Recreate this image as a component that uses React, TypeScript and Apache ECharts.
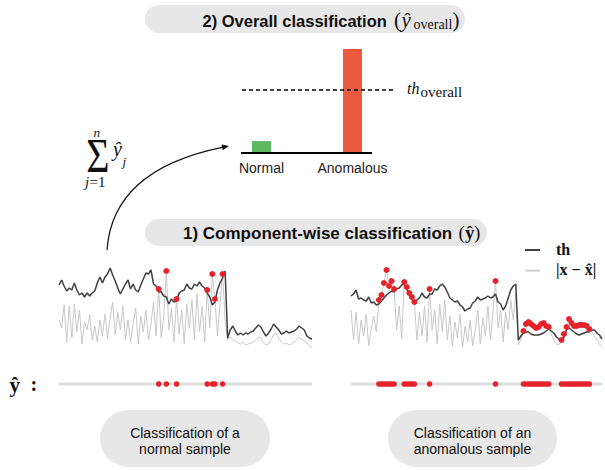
import React, { useEffect, useRef } from "react";
import * as echarts from "echarts";

// ---------- data ----------
const overallCategories = ["Normal", "Anomalous"];
const overallValues = [7, 61];
const overallThreshold = 37;
const overallColors = ["#5cb862", "#ee5a40"];

// normal sample: threshold (th) and reconstruction error |x - x^|
const normalTh = [
  65, 70, 64, 59, 62, 60, 67, 60, 55, 57,
  53, 57, 54, 57, 59, 67, 73, 67, 73, 76,
  82, 75, 69, 62, 56, 61, 66, 70, 61, 66,
  60, 58, 65, 71, 77, 76, 80, 66, 64, 58,
  58, 54, 53, 46, 51, 48, 49, 57, 59, 60,
  66, 62, 61, 66, 64, 68, 64, 62, 57, 53,
  45, 48, 60, 67, 72, 79, 12, 20, 24, 19,
  15, 17, 15, 17, 16, 18, 19, 22, 25, 23,
  18, 14, 17, 21, 26, 23, 20, 16, 17, 19,
  17, 18, 19, 21, 24, 22, 20, 14, 12, 11,
];
const normalErr = [
  30, 22, 45, 8, 44, 12, 46, 18, 40, 6,
  28, 20, 35, 10, 24, 8, 30, 14, 36, 12,
  32, 48, 15, 38, 20, 44, 10, 30, 8, 26,
  42, 6, 34, 18, 40, 10, 26, 48, 14, 61,
  12, 34, 79, 20, 42, 8, 51, 16, 40, 6,
  46, 22, 50, 10, 56, 18, 44, 8, 60, 22,
  76, 51, 14, 46, 76, 30, 10, 13, 11, 9,
  7, 6, 8, 5, 6, 7, 8, 10, 13, 12,
  7, 5, 6, 10, 15, 17, 12, 8, 6, 7,
  5, 6, 8, 10, 13, 11, 9, 7, 4, 2,
];

// anomalous sample
const anomTh = [
  54, 56, 60, 51, 52, 50, 49, 53, 47, 48,
  45, 46, 49, 52, 55, 57, 59, 58, 61, 62,
  65, 66, 61, 55, 51, 46, 50, 52, 57, 53,
  52, 56, 56, 61, 60, 64, 66, 63, 58, 52,
  50, 48, 49, 45, 43, 39, 41, 42, 47, 49,
  53, 50, 51, 52, 54, 52, 53, 56, 48, 46,
  40, 44, 52, 60, 64, 66, 10, 14, 17, 18,
  18, 16, 15, 15, 15, 16, 17, 19, 21, 19,
  17, 13, 11, 8, 13, 20, 22, 20, 18, 16,
  15, 16, 17, 18, 18, 20, 20, 17, 15, 11,
];
const anomErr = [
  40, 10, 38, 6, 30, 14, 36, 4, 22, 34,
  18, 50, 55, 67, 80, 64, 69, 61, 20, 44,
  12, 68, 63, 57, 53, 48, 10, 38, 14, 44,
  8, 61, 20, 40, 6, 46, 18, 50, 10, 34,
  4, 28, 12, 36, 2, 24, 8, 30, 4, 20,
  40, 6, 32, 14, 44, 10, 38, 69, 22, 40,
  8, 38, 20, 50, 30, 58, 5, 10, 19, 26,
  28, 26, 24, 22, 23, 26, 27, 24, 23, 16,
  10, 6, 5, 10, 16, 23, 31, 27, 24, 24,
  25, 25, 25, 24, 21, 18, 14, 10, 6, 3,
];

const legendNames = ["th", "|x \u2212 x\u0302|"];

// ---------- styles ----------
const SANS = '"Liberation Sans", Arial, sans-serif';
const SERIF = '"Liberation Serif", "Times New Roman", serif';
const TH_COLOR = "#404040";
const ERR_COLOR = "#c8c8c8";
const RED = "#e8222a";
const BOX = "#e7e7e7";

const pairs = (arr: number[]) => arr.map((v, i) => [i, v]);
const anomalyPoints = (th: number[], err: number[]) =>
  err.map((e, i) => (e > th[i] ? [i, e] : null)).filter(Boolean) as number[][];
const anomalyFlags = (th: number[], err: number[]) =>
  err.map((e, i) => (e > th[i] ? [i, 0] : null)).filter(Boolean) as number[][];

type TOpt = {
  size: number;
  family?: string;
  weight?: string;
  style?: string;
  align?: string;
  lh?: number;
  scaleY?: number;
};
const txt = (x: number, y: number, text: string, o: TOpt) => ({
  type: "text",
  x,
  y,
  silent: true,
  scaleY: o.scaleY ?? 1,
  style: {
    text,
    fill: "#111",
    textAlign: o.align ?? "left",
    textVerticalAlign: "middle",
    fontSize: o.size,
    fontFamily: o.family ?? SERIF,
    fontWeight: o.weight ?? "normal",
    fontStyle: o.style ?? "normal",
    lineHeight: o.lh,
  },
});
const box = (x: number, y: number, w: number, h: number) => ({
  type: "rect",
  silent: true,
  shape: { x, y, width: w, height: h, r: h / 2 },
  style: { fill: BOX },
});

export default function App() {
  const ref = useRef<HTMLDivElement>(null);

  useEffect(() => {
    if (!ref.current) return;
    const chart = echarts.init(ref.current, null, { renderer: "svg" });

    const lineSeries = (
      grid: number,
      data: number[],
      color: string,
      width: number
    ) => ({
      type: "line",
      xAxisIndex: grid,
      yAxisIndex: grid,
      data: pairs(data),
      symbol: "none",
      silent: true,
      lineStyle: { color, width },
    });
    const redScatter = (grid: number, data: number[][], size: number) => ({
      type: "scatter",
      xAxisIndex: grid,
      yAxisIndex: grid,
      data,
      symbol: "circle",
      symbolSize: size,
      silent: true,
      z: 5,
      itemStyle: { color: RED, opacity: 1, borderWidth: 0 },
    });
    const rowBase = (grid: number, len: number) => ({
      type: "line",
      xAxisIndex: grid,
      yAxisIndex: grid,
      data: [
        [0, 0],
        [len - 1, 0],
      ],
      symbol: "none",
      silent: true,
      lineStyle: { color: "#dddddd", width: 3 },
    });

    const hiddenValue = (grid: number, min: number, max: number) => ({
      gridIndex: grid,
      type: "value",
      min,
      max,
      show: false,
      splitLine: { show: false },
    });

    const option = {
      animation: false,
      grid: [
        { left: 216, top: 49, width: 182, height: 104 },
        { left: 59, top: 258, width: 253, height: 92 },
        { left: 351, top: 258, width: 251, height: 92 },
        { left: 59, top: 374, width: 253, height: 20 },
        { left: 351, top: 374, width: 251, height: 20 },
      ],
      xAxis: [
        {
          gridIndex: 0,
          type: "category",
          data: overallCategories,
          axisLine: { show: false },
          axisTick: { show: false },
          splitLine: { show: false },
          axisLabel: {
            fontFamily: SANS,
            fontSize: 14,
            color: "#222",
            margin: 8,
            interval: 0,
            hideOverlap: false,
            showMinLabel: true,
            showMaxLabel: true,
          },
        },
        hiddenValue(1, 0, normalTh.length - 1),
        hiddenValue(2, 0, anomTh.length - 1),
        hiddenValue(3, 0, normalTh.length - 1),
        hiddenValue(4, 0, anomTh.length - 1),
      ],
      yAxis: [
        hiddenValue(0, 0, Math.max(...overallValues)),
        hiddenValue(1, 0, 92),
        hiddenValue(2, 0, 92),
        hiddenValue(3, -1, 1),
        hiddenValue(4, -1, 1),
      ],
      series: [
        {
          type: "bar",
          xAxisIndex: 0,
          yAxisIndex: 0,
          barWidth: 19,
          silent: true,
          data: overallValues.map((v, i) => ({
            value: v,
            itemStyle: { color: overallColors[i] },
          })),
          markLine: {
            silent: true,
            symbol: ["none", "none"],
            label: { show: false },
            data: [
              [
                {
                  coord: [overallCategories[0], overallThreshold],
                  x: 242,
                  lineStyle: { type: [4, 3], width: 1.5, color: "#000" },
                },
                { coord: [overallCategories[1], overallThreshold], x: 395 },
              ],
              [
                {
                  coord: [overallCategories[0], 0],
                  x: 241,
                  lineStyle: { type: "solid", width: 2, color: "#000" },
                },
                { coord: [overallCategories[1], 0], x: 372 },
              ],
            ],
          },
        },
        { ...lineSeries(1, normalErr, ERR_COLOR, 1), name: legendNames[1] },
        { ...lineSeries(1, normalTh, TH_COLOR, 1.5), name: legendNames[0] },
        redScatter(1, anomalyPoints(normalTh, normalErr), 6),
        { ...lineSeries(2, anomErr, ERR_COLOR, 1), name: legendNames[1] },
        { ...lineSeries(2, anomTh, TH_COLOR, 1.5), name: legendNames[0] },
        redScatter(2, anomalyPoints(anomTh, anomErr), 6),
        rowBase(3, normalTh.length),
        redScatter(3, anomalyFlags(normalTh, normalErr), 5.5),
        rowBase(4, anomTh.length),
        redScatter(4, anomalyFlags(anomTh, anomErr), 5.5),
      ],
      graphic: [
        // title boxes
        box(145, 5, 320, 28),
        box(145, 219, 342, 27),
        box(100, 410, 170, 57),
        box(388, 410, 169, 57),
        // top title
        txt(202.5, 21, "2) Overall classification", {
          size: 16.5,
          family: SANS,
          weight: "bold",
        }),
        txt(394, 20.4, "(", { size: 21 }),
        txt(401.5, 19.8, "\u0177", { size: 21, style: "italic" }),
        txt(413.5, 24, "overall", { size: 14 }),
        txt(452.5, 20.4, ")", { size: 21 }),
        // middle title
        txt(183, 233, "1) Component-wise classification", {
          size: 17,
          family: SANS,
          weight: "bold",
        }),
        txt(458.5, 232.5, "(", { size: 19 }),
        txt(465, 232, "\u0177", { size: 19, weight: "bold" }),
        txt(474, 232.5, ")", { size: 19 }),
        // threshold label
        txt(407, 88.6, "th", { size: 16, style: "italic" }),
        txt(420.5, 92.2, "overall", { size: 15 }),
        // legend
        {
          type: "line",
          silent: true,
          shape: { x1: 525, y1: 250, x2: 540, y2: 250 },
          style: { stroke: TH_COLOR, lineWidth: 2 },
        },
        txt(556, 249.6, legendNames[0], { size: 16, weight: "bold" }),
        {
          type: "line",
          silent: true,
          shape: { x1: 525, y1: 270.7, x2: 540, y2: 270.7 },
          style: { stroke: "#d0d0d0", lineWidth: 2 },
        },
        txt(556, 269, legendNames[1], { size: 16, weight: "bold" }),
        // y-hat row label
        txt(9.5, 384.5, "\u0177", { size: 21, weight: "bold" }),
        txt(30.5, 384, ":", { size: 20, weight: "bold" }),
        // summation
        txt(98, 156, "\u03A3", { size: 40, align: "center", scaleY: 1.2 }),
        txt(96.7, 132.3, "n", { size: 13, style: "italic", align: "center" }),
        txt(113, 149, "\u0177", { size: 20, style: "italic" }),
        txt(122.5, 161.1, "j", { size: 13, style: "italic" }),
        txt(85, 181.7, "j", { size: 15, style: "italic" }),
        txt(89.5, 181.7, "=1", { size: 15 }),
        // arrow
        {
          type: "bezierCurve",
          silent: true,
          shape: { x1: 107, y1: 250, x2: 222.1, y2: 147.4, cpx1: 112.5, cpy1: 170 },
          style: { stroke: "#111", lineWidth: 1.2, fill: "none" },
        },
        {
          type: "polygon",
          silent: true,
          shape: {
            points: [
              [229, 146],
              [222.7, 150.3],
              [221.5, 144.5],
            ],
          },
          style: { fill: "#111" },
        },
        // bottom captions
        txt(185, 441, "Classification of a\nnormal sample", {
          size: 14,
          family: SANS,
          align: "center",
          lh: 15.5,
        }),
        txt(472.5, 441, "Classification of an\nanomalous sample", {
          size: 14,
          family: SANS,
          align: "center",
          lh: 15.5,
        }),
      ],
    };

    chart.setOption(option as any);
    return () => chart.dispose();
  }, []);

  return (
    <div
      ref={ref}
      style={{
        position: "absolute",
        left: 0,
        top: 0,
        width: 605,
        height: 470,
        background: "#fff",
      }}
    />
  );
}
